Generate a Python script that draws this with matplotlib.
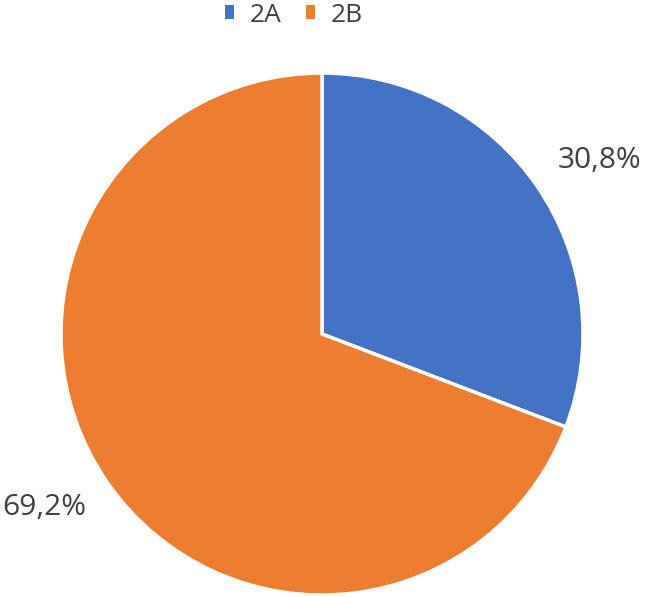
import matplotlib
matplotlib.use("Agg")
import numpy as np
import matplotlib.pyplot as plt
from matplotlib.patches import Patch

categories = ["2A", "2B"]
values = [30.8, 69.2]
colors = ["#4472C4", "#ED7D31"]

plt.rcParams['font.family'] = ['Open Sans', 'DejaVu Sans']

W, H = 646, 597
fig = plt.figure(figsize=(W / 100, H / 100), dpi=100)
cx, cy, r = 322, 334, 261
ax = fig.add_axes([(cx - r) / W, (H - cy - r) / H, 2 * r / W, 2 * r / H])

wedges, texts, autotexts = ax.pie(
    values, colors=colors, startangle=90, counterclock=False, radius=1,
    autopct=lambda p: f"{p:.1f}%".replace(".", ","), pctdistance=1.25,
    wedgeprops=dict(edgecolor="white", linewidth=2.5),
    textprops=dict(color="#404040", fontsize=21.5))
# place labels like Excel's outside-end labels (slightly rotated from wedge mid)
for w, t in zip(wedges, autotexts):
    ang = np.deg2rad((w.theta1 + w.theta2) / 2 - 2.5)
    t.set_position((1.255 * np.cos(ang), 1.255 * np.sin(ang)))
    t.set_clip_on(False)
ax.set_xlim(-1, 1)
ax.set_ylim(-1, 1)
ax.set_aspect("equal")
ax.axis("off")

handles = [Patch(facecolor=c, edgecolor="none") for c in colors]
leg = fig.legend(handles, categories, loc="center", bbox_to_anchor=(294 / W, 1 - 15 / H),
                 ncol=2, frameon=False, fontsize=19, handlelength=0.35, handleheight=0.4,
                 handletextpad=0.6, columnspacing=0.9, labelcolor="#404040")

fig.savefig("out.png", dpi=100)
